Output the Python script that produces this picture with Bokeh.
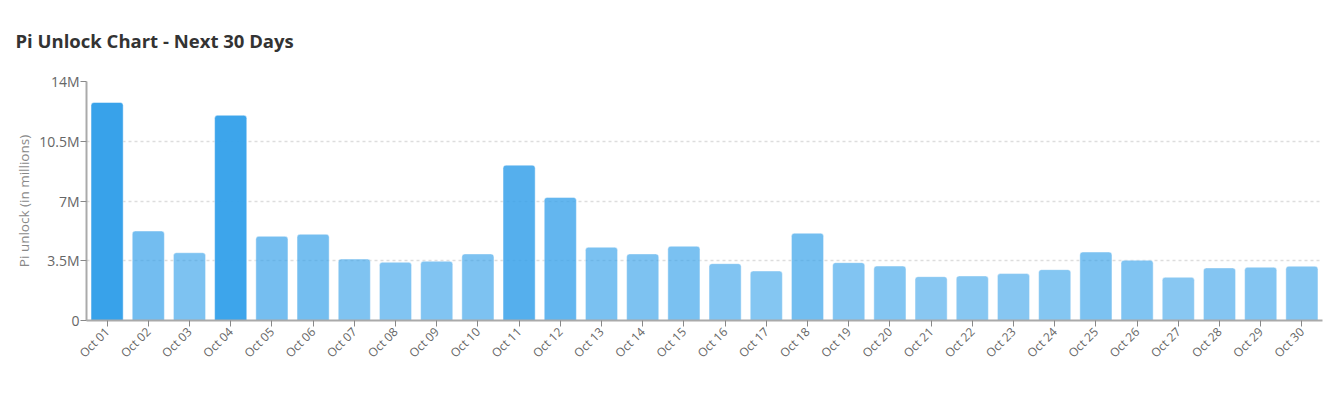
import math
from bokeh.plotting import figure
from bokeh.models import ColumnDataSource, FactorRange, FixedTicker, Title
from bokeh.embed import file_html
from bokeh.resources import INLINE

# ---- data ----
days = ["Oct 01", "Oct 02", "Oct 03", "Oct 04", "Oct 05", "Oct 06", "Oct 07", "Oct 08",
        "Oct 09", "Oct 10", "Oct 11", "Oct 12", "Oct 13", "Oct 14", "Oct 15", "Oct 16",
        "Oct 17", "Oct 18", "Oct 19", "Oct 20", "Oct 21", "Oct 22", "Oct 23", "Oct 24",
        "Oct 25", "Oct 26", "Oct 27", "Oct 28", "Oct 29", "Oct 30"]
unlock_millions = [12.77, 5.24, 3.97, 12.02, 4.93, 5.05, 3.60, 3.41, 3.47, 3.90,
                   9.10, 7.21, 4.29, 3.90, 4.35, 3.33, 2.90, 5.11, 3.39, 3.19,
                   2.57, 2.61, 2.75, 2.98, 4.01, 3.53, 2.53, 3.08, 3.12, 3.18]
y_ticks = [0, 3.5, 7, 10.5, 14]
y_tick_labels = ["0", "3.5M", "7M", "10.5M", "14M"]
chart_title = "Pi Unlock Chart - Next 30 Days"

FONT = "Open Sans"

vmin, vmax = min(unlock_millions), max(unlock_millions)
alphas = [0.6 + 0.4 * (v - vmin) / (vmax - vmin) for v in unlock_millions]

src = ColumnDataSource(dict(day=days, val=unlock_millions, alpha=alphas))

p = figure(width=1340, height=396, x_range=FactorRange(*days), y_range=(0, 14),
           output_backend="svg", toolbar_location=None,
           min_border_left=86, min_border_right=18, min_border_top=80, min_border_bottom=76)

p.vbar(x="day", top="val", width=0.78, source=src, fill_color="#38a2ea",
       fill_alpha="alpha", line_color="white", line_alpha=0.45, line_width=1,
       border_radius=(3, 3, 0, 0))

title = Title(text=chart_title, align="left", offset=-71,
              text_font=FONT, text_font_size="18.5px", text_font_style="bold",
              text_color="#333333", standoff=54, vertical_align="top")
p.add_layout(title, "above")

p.outline_line_color = None
p.background_fill_color = "white"
p.border_fill_color = "white"

p.xgrid.grid_line_color = None
p.ygrid.grid_line_color = "#dddddd"
p.ygrid.grid_line_dash = "3 3"
p.ygrid.grid_line_width = 1.5

p.yaxis.ticker = FixedTicker(ticks=y_ticks)
p.yaxis.major_label_overrides = {t: l for t, l in zip(y_ticks, y_tick_labels)}
p.yaxis.axis_label = "Pi unlock (in millions)"
p.yaxis.axis_label_text_font = FONT
p.yaxis.axis_label_text_font_size = "13.5px"
p.yaxis.axis_label_text_font_style = "normal"
p.yaxis.axis_label_text_color = "#888888"
p.yaxis.axis_label_standoff = 3

for ax in (p.xaxis[0], p.yaxis[0]):
    ax.axis_line_color = "#aaaaaa"
    ax.axis_line_width = 2
    ax.major_tick_line_color = "#888888"
    ax.major_tick_out = 6
    ax.major_tick_in = 0
    ax.minor_tick_line_color = None
    ax.major_label_text_font = FONT
    ax.major_label_text_color = "#666666"

p.yaxis.major_label_text_font_size = "14px"
p.yaxis.major_label_standoff = 1
p.xaxis.major_label_text_font_size = "12px"
p.xaxis.major_label_orientation = math.pi / 4
p.xaxis.major_label_standoff = 3

open("out.html", "w").write(file_html(p, INLINE))
